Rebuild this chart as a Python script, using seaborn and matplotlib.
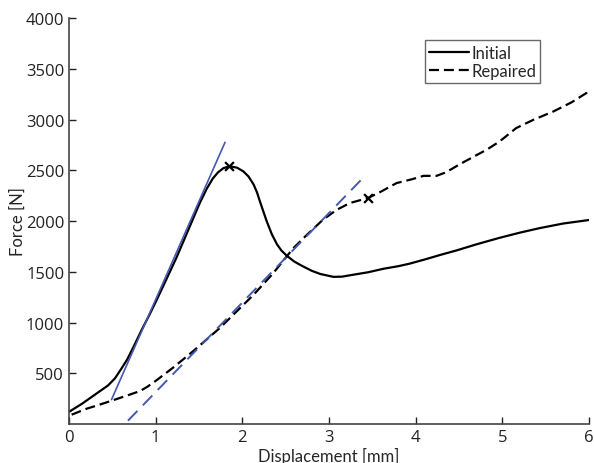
import numpy as np
import pandas as pd
import matplotlib
matplotlib.use("Agg")
import matplotlib.pyplot as plt
import seaborn as sns

# Initial specimen: displacement [mm], force [N]
initial_disp = [0.0, 0.15, 0.30, 0.45, 0.53, 0.60, 0.67, 0.75, 0.84, 0.93, 1.01, 1.12, 1.24,
                1.36, 1.45, 1.51, 1.59, 1.66, 1.72, 1.78, 1.85, 1.94, 2.01, 2.07, 2.13,
                2.17, 2.20, 2.24, 2.28, 2.34, 2.40, 2.45, 2.51, 2.60, 2.70, 2.80, 2.90,
                3.05, 3.15, 3.28, 3.45, 3.63, 3.80, 3.93, 4.10, 4.30, 4.47, 4.70, 4.97,
                5.20, 5.43, 5.70, 6.0]
initial_force = [120, 200, 290, 380, 450, 540, 634, 770, 930, 1080, 1220, 1420, 1640,
                 1880, 2060, 2180, 2320, 2420, 2480, 2520, 2540, 2525, 2490, 2440, 2360,
                 2280, 2200, 2100, 2000, 1870, 1770, 1710, 1660, 1600, 1553, 1510, 1478,
                 1450, 1452, 1471, 1495, 1530, 1555, 1580, 1620, 1670, 1710, 1770, 1835,
                 1885, 1930, 1975, 2010]

# Repaired specimen
repaired_disp = [0.03, 0.20, 0.35, 0.51, 0.65, 0.82, 0.90, 1.00, 1.10, 1.20, 1.43, 1.74,
                 2.13, 2.35, 2.59, 2.74, 2.93, 3.09, 3.24, 3.45, 3.60, 3.78, 3.95, 4.09,
                 4.24, 4.35, 4.51, 4.66, 4.82, 4.97, 5.16, 5.36, 5.59, 5.80, 5.97, 6.0]
repaired_force = [92, 150, 190, 235, 275, 325, 365, 425, 490, 555, 716, 946,
                  1274, 1480, 1734, 1860, 2013, 2111, 2177, 2227, 2290, 2374, 2410, 2445,
                  2445, 2480, 2560, 2630, 2703, 2785, 2916, 2998, 3080, 3170, 3261, 3300]

# Peak markers
peak_disp = [1.85, 3.45]
peak_force = [2540, 2227]

# Stiffness fit lines
fit_initial_disp = [0.49, 1.80]
fit_initial_force = [240, 2775]
fit_repaired_disp = [0.68, 3.38]
fit_repaired_force = [33, 2414]

sns.set_style("ticks")
plt.rcParams['font.family'] = ['Lato', 'DejaVu Sans']

fig = plt.figure(figsize=(5.94, 4.64), dpi=100)
ax = fig.add_axes([0.1162, 0.084, 0.8754, 0.875])

blue = "#4458b0"

ini = pd.DataFrame({"disp": initial_disp, "force": initial_force})
rep = pd.DataFrame({"disp": repaired_disp, "force": repaired_force})

sns.lineplot(data=ini, x="disp", y="force", sort=False, ax=ax, color="black", lw=1.6,
             label="Initial")
sns.lineplot(data=rep, x="disp", y="force", sort=False, ax=ax, color="black", lw=1.6,
             dashes=False, label="Repaired")
ax.lines[-1].set_dashes([4.5, 2.2])

ax.plot(fit_initial_disp, fit_initial_force, color=blue, lw=1.2)
ax.plot(fit_repaired_disp, fit_repaired_force, color=blue, lw=1.4, dashes=[7, 4])

ax.scatter(peak_disp, peak_force, marker="x", color="black", s=40, lw=1.6, zorder=5)

ax.set_xlim(0, 6)
ax.set_ylim(0, 4000)
ax.set_xticks([0, 1, 2, 3, 4, 5, 6])
ax.set_yticks([500, 1000, 1500, 2000, 2500, 3000, 3500, 4000])
ax.tick_params(direction="in", length=5, width=1, labelsize=12, colors="#222222")
for lab in ax.get_xticklabels() + ax.get_yticklabels():
    lab.set_family(['Open Sans', 'DejaVu Sans'])
for s in ["left", "bottom"]:
    ax.spines[s].set_color("#444444")
    ax.spines[s].set_linewidth(1.2)
sns.despine(ax=ax)

ax.set_xlabel("Displacement [mm]", fontsize=12)
ax.set_ylabel("Force [N]", fontsize=12)
ax.xaxis.set_label_coords(0.5, -0.057)
ax.yaxis.set_label_coords(-0.083, 0.5)

leg = ax.legend(loc="upper left", bbox_to_anchor=(0.685, 0.945), fontsize=12,
                frameon=True, fancybox=False, handlelength=2.4, handletextpad=0.1,
                borderpad=0.25, labelspacing=0.15, borderaxespad=0)
leg.get_frame().set_edgecolor("#444444")
leg.get_frame().set_linewidth(1.0)

fig.savefig("out.png", dpi=100)
